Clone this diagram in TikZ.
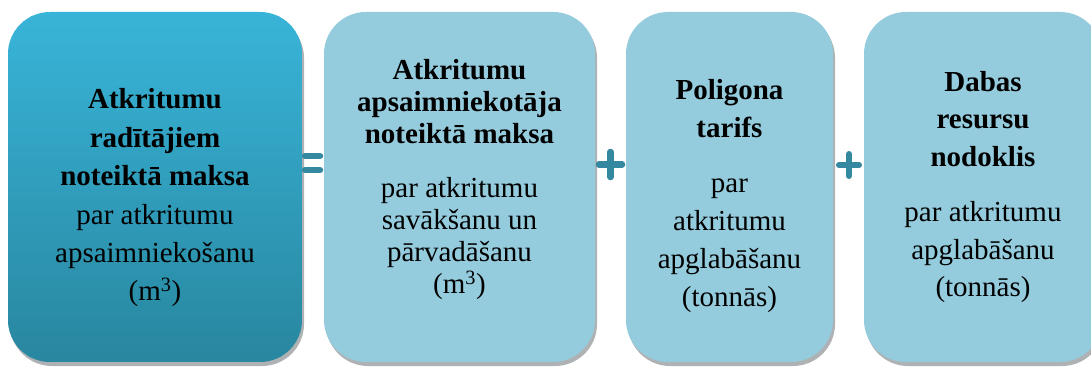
\documentclass[tikz,border=0pt]{standalone}
\usepackage{fontspec}
\newfontfamily\tnr{Liberation Serif}
\definecolor{boxlight}{RGB}{148,204,222}
\definecolor{boxtop}{RGB}{56,180,216}
\definecolor{boxbot}{RGB}{41,135,160}
\definecolor{symcol}{RGB}{52,136,160}
\definecolor{shadowcol}{RGB}{175,178,180}
\begin{document}
\begin{tikzpicture}[x=1pt,y=1pt,
  card/.style={rounded corners=42pt, draw=none},
  cardshadow/.style={rounded corners=42pt, fill=shadowcol, draw=none},
  lightcard/.style={card, fill=boxlight},
  txt/.style={align=center, inner sep=0pt, text=black},
  symbar/.style={line width=6.5pt, line cap=round, draw=symcol}]
\useasboundingbox (0,0) rectangle (1091,367);
\fill[white] (0,0) rectangle (1091,367);
% shadows
\path[cardshadow] (10,1) rectangle (304,351);
\path[cardshadow] (326,1) rectangle (597,351);
\path[cardshadow] (628,1) rectangle (835,351);
\path[cardshadow] (866,1) rectangle (1104,351);
% dark box with stepwise gradient
\begin{scope}
  \clip[rounded corners=42pt] (8,5) rectangle (302,355);
  \foreach \i in {0,...,69} {
    \pgfmathsetmacro{\p}{100*\i/69}
    \fill[boxtop!\p!boxbot] (8,{5+\i*5}) rectangle (302,{5+\i*5+5.6});
  }
\end{scope}
% light boxes
\path[lightcard] (324,5) rectangle (595,355);
\path[lightcard] (626,5) rectangle (833,355);
\path[lightcard] (864,5) rectangle (1102,355);
\coordinate (b1) at (155,169);
\coordinate (b2) at (459.5,187);
\coordinate (b3) at (729.5,171);
\coordinate (b4) at (983,180);
% texts
\node[txt, font=\tnr\fontsize{29}{38.4}\selectfont] (t1) at (b1)
  {\textbf{Atkritumu}\\ \textbf{radītājiem}\\ \textbf{noteiktā maksa}\\ par atkritumu\\ apsaimniekošanu\\ (m\textsuperscript{3})};
\node[txt, font=\tnr\fontsize{29}{32}\selectfont] (t2) at (b2)
  {\textbf{Atkritumu}\\ \textbf{apsaimniekotāja}\\ \textbf{noteiktā maksa}\\[22pt] par atkritumu\\ savākšanu un\\ pārvadāšanu\\ (m\textsuperscript{3})};
\node[txt, font=\tnr\fontsize{29}{38}\selectfont] (t3) at (b3)
  {\textbf{Poligona}\\ \textbf{tarifs}\\[17pt] par\\ atkritumu\\ apglabāšanu\\ (tonnās)};
\node[txt, font=\tnr\fontsize{29}{37.5}\selectfont] (t4) at (b4)
  {\textbf{Dabas}\\ \textbf{resursu}\\ \textbf{nodoklis}\\[18pt] par atkritumu\\ apglabāšanu\\ (tonnās)};
% equals sign
\coordinate (e1a) at (305,211); \coordinate (e1b) at (320,211);
\coordinate (e2a) at (305,197); \coordinate (e2b) at (320,197);
\draw[symbar] (e1a) -- (e1b);
\draw[symbar] (e2a) -- (e2b);
% plus 1
\coordinate (p1l) at (599,202.5); \coordinate (p1r) at (622,202.5);
\coordinate (p1t) at (610.5,215); \coordinate (p1b) at (610.5,190);
\draw[symbar] (p1l) -- (p1r);
\draw[symbar] (p1t) -- (p1b);
% plus 2
\coordinate (p2l) at (839,202); \coordinate (p2r) at (859,202);
\coordinate (p2t) at (849,213); \coordinate (p2b) at (849,191);
\draw[symbar, line width=6pt] (p2l) -- (p2r);
\draw[symbar, line width=6pt] (p2t) -- (p2b);
\end{tikzpicture}
\end{document}
